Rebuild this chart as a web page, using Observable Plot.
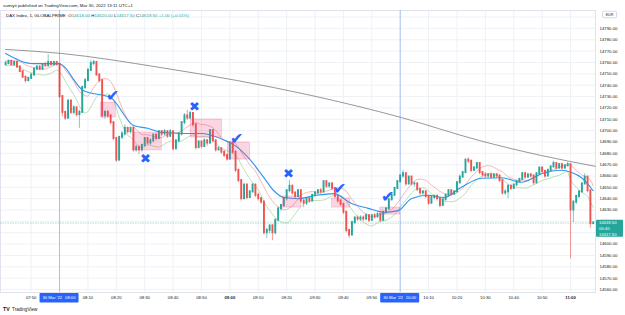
<!DOCTYPE html>
<html><head><meta charset="utf-8">
<script src="https://cdn.jsdelivr.net/npm/d3@7"></script>
<script src="https://cdn.jsdelivr.net/npm/@observablehq/plot@0.6"></script>
<style>
body{margin:0;background:#fff;width:625px;height:315px;overflow:hidden;}
svg{display:block;}
svg text{font-family:"Liberation Sans",Arial,sans-serif;}
</style></head><body><div id="chart"></div>
<script>
// ---- data (1-minute candles, DAX Index, 30 Mar 2022, minutes relative to 08:00) ----
const startMinute = -19;
const firstOpen = 14758;
const closes = [
14759,14761,14758,14760,14756,14752,14747,14744,14746,14749,14754,14756,14754,14758,14757,14760,14758,14760,14758,
14730,14716,14711,14726,14716,14720,14714,14716,14738,14744,
14753,14759,14760,14749,14744,14713,14716,14713,14707,14693,
14674,14694,14697,14702,14699,14702,14683,14685,14683,14687,
14693,14689,14691,14696,14693,14699,14697,14699,14695,14699,
14684,14691,14697,14707,14713,14711,14715,14705,14685,14690,
14686,14691,14689,14700,14691,14683,14684,14681,14678,14675,
14689,14681,14665,14656,14640,14652,14641,14646,14652,14643,
14640,14637,14610,14612,14616,14610,14621,14631,14634,14640,
14647,14651,14645,14642,14647,14638,14636,14640,14638,14643,
14645,14647,14646,14655,14651,14653,14649,14642,14638,14635,
14628,14612,14608,14619,14623,14622,14623,14622,14625,14621,
14625,14624,14626,14621,14628,14631,14639,14643,14649,14655,
14660,14662,14653,14659,14653,14653,14648,14645,14646,14642,
14636,14641,14642,14640,14634,14639,14643,14647,14644,14646,
14654,14659,14663,14674,14673,14665,14667,14671,14663,14661,
14660,14661,14659,14661,14660,14656,14645,14646,14651,14649,
14652,14655,14657,14662,14659,14661,14660,14654,14662,14667,
14664,14660,14665,14668,14671,14667,14670,14667,14669,14670,
14630,14637,14642,14646,14653,14659,14647,14618,14618.5];
const highs = [
14761,14762,14762,14761,14761,14757,14753,14748,14747,14750,14755,14757,14757,14759,14760,14767,14761,14761,14761,
14759,14731,14717,14727,14727,14722,14721,14718,14739,14746,
14755,14762,14762,14761,14750,14745,14718,14718,14714,14708,
14694,14695,14699,14705,14703,14703,14703,14687,14687,14688,
14694,14694,14693,14697,14697,14700,14700,14701,14700,14701,
14700,14692,14698,14708,14715,14718,14717,14716,14706,14691,
14691,14693,14692,14701,14701,14692,14686,14685,14682,14679,
14690,14690,14682,14666,14657,14653,14653,14647,14653,14653,
14645,14641,14638,14614,14617,14617,14622,14632,14635,14641,
14648,14656,14652,14646,14648,14648,14639,14641,14641,14644,
14646,14648,14649,14656,14656,14654,14654,14650,14643,14639,
14636,14629,14613,14620,14624,14625,14625,14625,14627,14626,
14626,14627,14628,14627,14629,14632,14640,14644,14650,14656,
14661,14665,14663,14660,14660,14655,14654,14649,14647,14647,
14643,14642,14643,14644,14641,14640,14644,14648,14648,14647,
14655,14661,14664,14675,14676,14674,14668,14672,14672,14664,
14663,14662,14663,14662,14662,14661,14657,14648,14652,14652,
14653,14656,14658,14663,14663,14662,14662,14661,14663,14668,
14668,14665,14666,14669,14673,14672,14671,14671,14670,14672,
14671,14638,14643,14647,14654,14662,14660,14648,14620];
const lows = [
14757,14758,14757,14757,14755,14751,14746,14742,14743,14745,14748,14753,14753,14753,14756,14756,14757,14757,14757,
14728,14712,14709,14710,14714,14714,14712,14702,14715,14736,
14743,14752,14757,14748,14742,14711,14710,14711,14705,14691,
14672,14673,14692,14695,14697,14697,14681,14681,14679,14681,
14685,14687,14687,14689,14691,14692,14695,14695,14693,14694,
14682,14683,14689,14695,14705,14709,14710,14703,14683,14684,
14684,14685,14686,14688,14689,14681,14682,14679,14676,14673,
14674,14679,14663,14654,14638,14639,14639,14640,14645,14641,
14638,14635,14608,14605,14609,14603,14608,14620,14629,14632,
14638,14645,14643,14640,14641,14636,14632,14634,14636,14637,
14641,14643,14644,14645,14649,14649,14647,14640,14636,14633,
14626,14610,14605,14607,14617,14620,14620,14620,14621,14619,
14620,14622,14623,14619,14620,14627,14630,14638,14642,14648,
14654,14658,14651,14652,14651,14650,14646,14643,14643,14640,
14634,14635,14639,14638,14632,14633,14638,14642,14642,14643,
14645,14653,14658,14662,14671,14663,14664,14666,14661,14659,
14658,14658,14657,14658,14658,14654,14643,14643,14640,14647,
14648,14651,14654,14656,14657,14658,14658,14652,14653,14661,
14662,14658,14659,14664,14667,14665,14666,14665,14666,14668,
14587,14619,14635,14640,14645,14652,14645,14614,14617.5];

// slow moving average (blue) and long moving average (grey)
const blueT = [-19,-9.2,-0.4,8.5,18,26.1,31.1,35.7,42.7,49.8,56.8,62.8,67.4,72,75.5,79.1,84,90.4,96.7,102.7,108.7,114.4,119.3,123.9,129.9,135.5,141.5,148.6,155.7,162.7,169.8,176.9,180.4,183.9,188];
const blueP = [14768,14759,14759,14735,14729,14704.5,14702,14698.5,14697.5,14697.5,14693,14685,14673.5,14658.5,14647,14641,14640,14643,14644.5,14636,14631.5,14628,14629.5,14640,14643,14641,14650,14658,14658.5,14654.5,14662,14665,14663,14658.5,14647];
const grayT = [-19,0.4,35.7,62.8,88.6,120.4,147.5,169.8,188.8];
const grayP = [14771.5,14768,14755.5,14744,14731,14711.5,14691.5,14678,14668.5];

// annotations
const checkT = [18.7,62.5,98.5,115.4];
const checkP = [14731,14693,14649,14642];
const crossT = [30.4,47.7,80.8];
const crossP = [14675.4,14721.2,14662.2];
const zoneT1 = [14.5,26.5,46.2,59.3,78.7,96,113];
const zoneT2 = [19.8,36,57.2,67.1,85,102.4,120];
const zoneHi = [14724.5,14698.3,14709.8,14689.5,14642,14640.2,14632.2];
const zoneLo = [14711.5,14682.5,14693.9,14674.5,14632.2,14632.2,14626];

// axes
const priceGrid = [14560,14570,14580,14590,14600,14610,14620,14630,14640,14650,14660,14670,14680,14690,14700,14710,14720,14730,14740,14750,14760,14770,14780,14790,14800];
const priceLabels = [14560,14570,14580,14590,14600,14630,14640,14650,14660,14670,14680,14690,14700,14710,14720,14730,14740,14750,14760,14770,14780,14790];
const gridMinutes = [-10,0,10,20,30,40,50,60,70,80,90,100,110,120,130,140,150,160,170,180];
const timeTicks = [-10,10,20,30,40,50,70,80,90,100,110,130,140,150,160,170];
const timeLabels = ["07:50","08:10","08:20","08:30","08:40","08:50","09:10","09:20","09:30","09:40","09:50","10:10","10:20","10:30","10:40","10:50"];
const hourTicks = [60,180];
const hourLabels = ["09:00","11:00"];
const sessionMarks = [0,120];
const sessionDates = ["30 Mar '22","30 Mar '22"];
const sessionTimes = ["08:00","10:00"];
const lastPrice = 14618.5;
const lastLabels = ["14618.50","00:40","14617.50"];

// ---- build ----
const bars = closes.map((c,i)=>{const o = i ? closes[i-1] : firstOpen; return {t:startMinute+i,o,h:highs[i],l:lows[i],c,up:c>=o};});
const blue = blueT.map((t,i)=>({t,p:blueP[i]}));
const gray = grayT.map((t,i)=>({t,p:grayP[i]}));
const checks = checkT.map((t,i)=>({t,p:checkP[i]}));
const crosses = crossT.map((t,i)=>({t,p:crossP[i]}));
const zones = zoneT1.map((t1,i)=>({t1,t2:zoneT2[i],hi:zoneHi[i],lo:zoneLo[i]}));
const UP="#26a69a", DN="#ef5350", INK="#131722";

const chart = Plot.plot({
  width:625, height:315, marginTop:10, marginBottom:23, marginLeft:0, marginRight:30,
  x:{type:"linear", domain:[-20.8,188.8], axis:null},
  y:{domain:[14557.36,14805.8], axis:null},
  style:{background:"#fff", fontFamily:"Liberation Sans, Arial, sans-serif"},
  marks:[
    Plot.ruleX(gridMinutes,{stroke:"#eef1f6"}),
    Plot.ruleY(priceGrid,{stroke:"#eef1f6"}),
    Plot.frame({stroke:"#e0e3eb"}),
    Plot.line(gray,{x:"t",y:"p",stroke:"#8b8b8b",strokeWidth:0.9,curve:"monotone-x"}),
    Plot.lineY(bars,Plot.windowY({k:10,anchor:"end"},{x:"t",y:"h",stroke:"#f5a5a3",strokeWidth:0.8})),
    Plot.lineY(bars,Plot.windowY({k:10,anchor:"end"},{x:"t",y:"l",stroke:"#a9d8a6",strokeWidth:0.8})),
    Plot.line(blue,{x:"t",y:"p",stroke:"#2e96f0",strokeWidth:1.1,curve:"monotone-x"}),
    Plot.ruleX(bars,{x:"t",y1:"l",y2:"h",stroke:d=>d.up?UP:DN,strokeWidth:0.7,strokeOpacity:0.85}),
    Plot.ruleX(bars,{x:"t",y1:"o",y2:"c",stroke:d=>d.up?UP:DN,strokeWidth:1.9,strokeLinecap:"square"}),
    Plot.rect(zones,{x1:"t1",x2:"t2",y1:"lo",y2:"hi",fill:"#ec407a",fillOpacity:0.22,stroke:"#ec407a",strokeOpacity:0.35,strokeWidth:0.6}),
    Plot.ruleX(sessionMarks,{stroke:"#2962ff",strokeOpacity:0.45,strokeWidth:0.8}),
    Plot.ruleY([lastPrice],{stroke:UP,strokeOpacity:0.55,strokeWidth:0.7,strokeDasharray:"1.5,1"}),
    Plot.text(checks,{x:"t",y:"p",text:()=>"\u2714",fontSize:16,fill:"#2962ff"}),
    Plot.text(crosses,{x:"t",y:"p",text:()=>"\u2716",fontSize:13,fill:"#2962ff"}),
    Plot.text(priceLabels,{y:d=>d,frameAnchor:"right",dx:4,textAnchor:"start",text:d=>d.toFixed(2),fontSize:4.3,fill:INK}),
    Plot.text(timeTicks,{x:d=>d,frameAnchor:"bottom",dy:6,text:(d,i)=>timeLabels[i],fontSize:4.2,fill:INK}),
    Plot.text(hourTicks,{x:d=>d,frameAnchor:"bottom",dy:6,text:(d,i)=>hourLabels[i],fontSize:4.2,fontWeight:"bold",fill:INK})
  ]
});
document.getElementById("chart").appendChild(chart);

// ---- overlays positioned through the plot's scales ----
const xsc = chart.scale("x"), ysc = chart.scale("y");
const sx = d3.scaleLinear(xsc.domain, xsc.range), sy = d3.scaleLinear(ysc.domain, ysc.range);
const svg = d3.select(chart);
const g = svg.append("g").attr("font-family","Liberation Sans, Arial, sans-serif").attr("text-anchor","start");

g.append("text").attr("x",3).attr("y",5.5).attr("text-anchor","start").attr("dominant-baseline","middle")
 .attr("font-size",4.4).attr("fill",INK).text("sumiyti published on TradingView.com, Mar 30, 2022 13:11 UTC+1");

const leg = g.append("text").attr("x",6).attr("y",15.5).attr("text-anchor","start").attr("dominant-baseline","middle").attr("font-size",4.4).attr("xml:space","preserve");
[["DAX Index, 1, GLOBALPRIME  ",INK],["O",INK],["14618.00",UP],[" H",INK],["14620.00",UP],[" L",INK],["14617.50",UP],[" C",INK],["14618.50",UP],[" +1.00 (+0.01%)",UP]]
 .forEach(([s,c])=>leg.append("tspan").attr("fill",c).text(s));

// EUR badge
g.append("rect").attr("x",602.5).attr("y",11.2).attr("width",14).attr("height",6.6).attr("rx",1.2)
 .attr("fill","#fff").attr("stroke","#b2b5be").attr("stroke-width",0.5);
g.append("text").attr("x",609.5).attr("y",14.6).attr("text-anchor","middle").attr("dominant-baseline","middle")
 .attr("font-size",3.6).attr("fill",INK).text("EUR");

// last price label
const yl = sy(lastPrice);
g.append("rect").attr("x",596).attr("y",yl-2.8).attr("width",27).attr("height",17).attr("rx",0.8).attr("fill",UP);
lastLabels.forEach((s,i)=>g.append("text").attr("x",599).attr("y",yl+0.6+i*5.6).attr("text-anchor","start").attr("dominant-baseline","middle")
 .attr("font-size",4.2).attr("fill","#fff").text(s));

// session time labels
sessionMarks.forEach((t,i)=>{
  const cx = sx(t);
  g.append("rect").attr("x",cx-19.5).attr("y",293).attr("width",39).attr("height",9.5).attr("rx",0.8).attr("fill","#2962ff");
  g.append("text").attr("x",cx-16.5).attr("y",298).attr("text-anchor","start").attr("dominant-baseline","middle").attr("font-size",4.2).attr("fill","#fff").text(sessionDates[i]);
  g.append("text").attr("x",cx+16.5).attr("y",298).attr("text-anchor","end").attr("dominant-baseline","middle").attr("font-size",4.2).attr("fill","#fff").text(sessionTimes[i]);
});

// footer logo
g.append("text").attr("x",3).attr("y",309.5).attr("text-anchor","start").attr("dominant-baseline","middle").attr("font-size",5.2).attr("font-weight","bold").attr("fill",INK).text("TV");
g.append("text").attr("x",12).attr("y",309.5).attr("text-anchor","start").attr("dominant-baseline","middle").attr("font-size",4.6).attr("fill",INK).text("TradingView");
</script></body></html>
